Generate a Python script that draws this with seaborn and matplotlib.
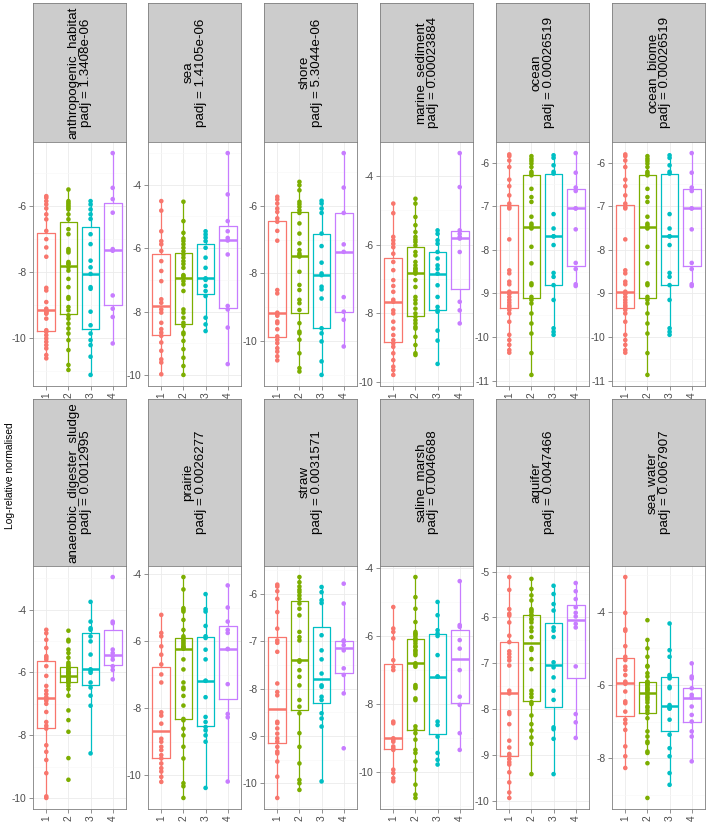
import matplotlib
matplotlib.use("Agg")
import matplotlib.pyplot as plt
from matplotlib.ticker import MultipleLocator
import seaborn as sns
import pandas as pd

groups = ["1", "2", "3", "4"]
colours = ["#F8766D", "#7CAE00", "#00BFC4", "#C77CFF"]

habitats_top = ["anthropogenic_habitat", "sea", "shore", "marine_sediment", "ocean", "ocean_biome"]
padj_top = ["1.3408e-06", "1.4105e-06", "5.3044e-06", "0.00023884", "0.00026519", "0.00026519"]
habitats_bottom = ["anaerobic_digester_sludge", "prairie", "straw", "saline_marsh", "aquifer", "sea_water"]
padj_bottom = ["0.0012995", "0.0026277", "0.0031571", "0.0046688", "0.0047466", "0.0067907"]

# log-relative normalised abundance, one list per group (1..4)
anthropogenic_habitat = [
    [-5.71, -5.76, -5.86, -5.96, -6.08, -6.26, -6.41, -6.76, -7.01, -7.26, -7.54, -8.48, -8.56, -8.91, -9.11,
     -9.16, -9.2, -9.21, -9.25, -9.26, -9.41, -9.76, -9.81, -9.91, -10.01, -10.11, -10.21, -10.31, -10.51, -10.61],
    [-5.51, -5.86, -5.91, -5.96, -6.01, -6.06, -6.11, -6.26, -6.41, -6.71, -6.86, -7.31, -7.36, -7.41, -7.7, -7.75,
     -7.76, -7.86, -7.96, -8.21, -8.46, -8.76, -8.81, -9.06, -9.16, -9.31, -9.41, -9.56, -9.71, -9.86, -10.06,
     -10.36, -10.81, -10.96],
    [-5.86, -5.96, -6.11, -6.26, -6.4, -6.86, -7.16, -7.66, -7.86, -8.06, -8.46, -8.51, -9.2, -9.61, -9.86, -10.06,
     -10.21, -10.56, -11.11],
    [-4.41, -5.46, -5.8, -6.21, -7.31, -7.36, -8.71, -9.11, -9.36, -10.16],
]
sea = [
    [-4.52, -4.82, -5.47, -5.78, -5.88, -6.09, -6.41, -6.72, -7.04, -7.61, -7.72, -7.93, -8.03, -8.35, -8.55, -8.66,
     -8.76, -8.97, -9.23, -9.50, -9.60, -9.97],
    [-4.54, -5.15, -5.52, -5.70, -5.78, -5.88, -5.99, -6.1, -6.20, -6.3, -6.41, -6.5, -6.62, -6.85, -6.88, -6.93,
     -7.04, -7.14, -7.35, -7.93, -8.03, -8.19, -8.35, -8.45, -8.66, -8.71, -8.92, -9.18, -9.45, -9.71, -9.99],
    [-5.47, -5.57, -5.67, -5.78, -5.99, -6.30, -6.62, -6.95, -7.0, -7.19, -7.35, -7.51, -8.19, -8.40, -8.61],
    [-3.01, -4.31, -5.15, -5.47, -5.68, -5.76, -6.20, -7.82, -7.93, -8.50, -9.65],
]
shore = [
    [-5.73, -5.81, -5.93, -6.08, -6.18, -6.37, -6.47, -6.74, -7.03, -8.49, -8.59, -9.16, -9.20, -9.25, -9.42, -9.47,
     -9.65, -9.86, -9.96, -10.06, -10.21, -10.31, -10.45, -10.57],
    [-5.29, -5.39, -5.54, -5.88, -5.95, -6.03, -6.13, -6.21, -6.52, -6.82, -7.11, -7.31, -7.41, -7.46, -7.5, -7.95,
     -8.34, -8.49, -8.78, -8.88, -9.08, -9.47, -9.72, -9.77, -9.96, -10.36, -10.80, -10.90],
    [-5.85, -5.93, -6.08, -6.21, -6.82, -7.19, -7.68, -8.00, -8.05, -8.39, -8.47, -8.74, -9.62, -9.77, -10.01,
     -10.60, -11.00],
    [-4.44, -5.46, -6.21, -7.14, -7.36, -8.70, -9.13, -9.37, -10.16],
]
marine_sediment = [
    [-4.80, -5.08, -5.77, -5.87, -5.97, -6.07, -6.26, -6.50, -6.74, -7.03, -7.2, -7.37, -7.6, -7.66, -7.91, -8.00,
     -8.24, -8.44, -8.63, -8.78, -8.87, -8.97, -9.16, -9.36, -9.55, -9.65, -9.79],
    [-4.66, -4.80, -5.19, -5.43, -5.63, -5.77, -5.85, -5.92, -6.02, -6.21, -6.31, -6.5, -6.60, -6.69, -6.7, -6.76,
     -6.79, -6.84, -7.03, -7.23, -7.52, -7.61, -7.71, -7.86, -8.00, -8.10, -8.20, -8.29, -8.39, -8.44, -8.68,
     -8.92, -9.16, -9.21],
    [-5.58, -5.68, -5.87, -5.97, -6.21, -6.4, -6.60, -6.7, -6.84, -7.18, -7.52, -7.81, -7.91, -7.95, -8.50, -8.79,
     -9.47],
    [-3.33, -4.32, -5.58, -5.68, -5.77, -5.82, -6.21, -7.66, -7.91, -8.29],
]
ocean = [
    [-5.81, -5.85, -5.95, -6.10, -6.39, -6.54, -6.75, -6.94, -7.02, -7.05, -7.76, -8.47, -8.54, -8.73, -8.79, -8.96,
     -9.0, -9.0, -9.08, -9.15, -9.21, -9.27, -9.31, -9.38, -9.46, -9.65, -9.95, -10.07, -10.18, -10.30, -10.36],
    [-5.85, -5.91, -5.96, -6.02, -6.10, -6.21, -6.25, -6.29, -6.60, -6.79, -6.90, -7.24, -7.40, -7.44, -7.49, -7.51,
     -7.93, -8.31, -8.77, -8.81, -9.08, -9.15, -9.23, -9.46, -9.69, -9.92, -10.37, -10.87],
    [-5.83, -5.89, -6.06, -6.21, -6.25, -7.18, -7.51, -7.69, -7.69, -7.89, -8.53, -8.62, -8.81, -9.15, -9.80,
     -9.88, -9.95],
    [-5.78, -6.23, -6.57, -6.65, -7.05, -7.05, -7.53, -8.30, -8.44, -8.79, -8.83],
]
ocean_biome = ocean  # same samples as "ocean" in the source chart
anaerobic_digester_sludge = [
    [-4.64, -4.75, -4.96, -5.22, -5.48, -5.53, -5.59, -5.80, -6.11, -6.43, -6.58, -6.69, -6.79, -6.85, -6.90, -7.0,
     -7.26, -7.58, -7.7, -7.79, -8.32, -8.53, -8.79, -9.21, -9.95, -10.0],
    [-4.67, -4.96, -5.01, -5.27, -5.38, -5.53, -5.69, -5.75, -5.80, -5.85, -5.88, -5.9, -5.95, -6.0, -6.0, -6.01,
     -6.05, -6.1, -6.11, -6.15, -6.2, -6.2, -6.22, -6.25, -6.27, -6.28, -6.3, -6.35, -6.43, -6.53, -6.74, -7.21,
     -7.52, -7.89, -8.73, -9.42],
    [-3.75, -4.38, -4.59, -4.64, -4.85, -5.01, -5.43, -5.90, -5.96, -6.01, -6.32, -6.48, -6.74, -7.06, -8.58],
    [-2.96, -4.38, -4.43, -5.27, -5.38, -5.48, -5.59, -5.80, -5.92, -6.22],
]
prairie = [
    [-5.21, -5.75, -5.85, -6.15, -6.40, -6.69, -6.99, -7.23, -8.12, -8.22, -8.46, -8.91, -9.0, -9.15, -9.25, -9.40,
     -9.50, -9.65, -9.79, -9.89, -10.05, -10.2],
    [-4.08, -4.45, -5.01, -5.06, -5.11, -5.36, -5.66, -5.85, -5.9, -5.95, -6.0, -6.05, -6.1, -6.15, -6.18, -6.20,
     -6.22, -6.54, -6.84, -7.23, -7.38, -7.43, -7.63, -7.92, -8.32, -8.36, -8.61, -8.81, -9.15, -9.50, -10.24,
     -10.33, -10.68],
    [-4.59, -5.04, -5.11, -5.54, -5.85, -5.90, -6.25, -6.54, -7.18, -7.18, -7.67, -8.26, -8.41, -8.56, -8.66, -8.81,
     -9.00, -10.38],
    [-4.33, -4.99, -5.41, -5.66, -5.75, -6.23, -6.23, -7.28, -8.17, -8.27, -10.19],
]
straw = [
    [-5.80, -5.84, -5.94, -6.10, -6.38, -6.73, -6.98, -7.03, -7.22, -7.89, -8.07, -8.14, -8.70, -8.73, -8.84, -8.95,
     -9.05, -9.12, -9.23, -9.33, -9.37, -9.54, -9.86, -10.31],
    [-5.64, -5.75, -5.84, -5.91, -5.96, -6.03, -6.10, -6.20, -6.31, -6.45, -6.80, -6.91, -6.98, -7.40, -7.43, -7.61,
     -7.75, -7.93, -8.24, -8.38, -8.52, -8.94, -9.23, -9.58, -9.93, -10.0, -10.14],
    [-5.85, -5.96, -6.13, -6.19, -6.87, -7.19, -7.38, -7.68, -7.93, -7.96, -8.17, -8.24, -8.52, -8.63, -8.80, -9.96],
    [-5.78, -6.20, -6.98, -7.0, -7.08, -7.19, -7.57, -7.71, -8.10, -9.26],
]
saline_marsh = [
    [-5.15, -5.78, -5.88, -6.07, -6.71, -6.91, -7.0, -8.51, -8.56, -9.0, -9.05, -9.10, -9.24, -9.3, -9.34, -9.92,
     -10.02, -10.17, -10.26],
    [-4.27, -4.86, -5.20, -5.59, -5.88, -5.93, -5.95, -6.0, -6.07, -6.1, -6.15, -6.22, -6.3, -6.32, -6.41, -6.45,
     -6.51, -6.56, -6.8, -6.85, -6.90, -7.44, -7.49, -7.53, -7.83, -7.88, -8.65, -8.75, -8.85, -9.04, -9.34, -9.43,
     -9.68, -9.92, -10.36, -10.65, -10.75],
    [-5.0, -5.39, -5.83, -5.93, -6.0, -6.56, -7.19, -7.19, -8.51, -8.61, -8.95, -9.43, -9.63, -9.77],
    [-4.39, -5.68, -5.73, -6.12, -6.37, -7.0, -7.78, -8.02, -8.85, -9.34],
]
aquifer = [
    [-5.12, -5.40, -5.82, -5.92, -5.96, -6.11, -6.40, -6.54, -6.74, -6.80, -6.87, -6.94, -7.05, -7.60, -7.66, -8.07,
     -8.11, -8.33, -8.69, -8.84, -8.98, -9.02, -9.09, -9.16, -9.21, -9.38, -9.60, -9.82, -9.94],
    [-5.16, -5.38, -5.52, -5.63, -5.82, -5.85, -5.89, -5.95, -5.96, -6.03, -6.05, -6.11, -6.22, -6.3, -6.43, -6.67,
     -6.71, -6.91, -7.13, -7.60, -7.67, -7.74, -7.85, -7.89, -8.14, -8.33, -8.47, -8.62, -8.76, -9.42],
    [-5.31, -5.49, -5.71, -5.85, -6.22, -6.29, -6.43, -6.98, -7.09, -7.31, -7.60, -7.8, -8.40, -8.44, -8.65, -9.42],
    [-5.25, -5.43, -5.60, -5.78, -5.9, -5.98, -6.14, -6.22, -7.07, -8.11, -8.29, -8.63],
]
sea_water = [
    [-3.05, -4.03, -4.48, -4.52, -4.94, -5.23, -5.32, -5.50, -5.59, -5.73, -5.91, -5.94, -5.97, -6.18, -6.45, -6.50,
     -6.73, -6.95, -7.05, -7.23, -7.68, -7.95, -8.27],
    [-4.23, -4.77, -5.0, -5.23, -5.48, -5.5, -5.68, -5.77, -5.91, -5.92, -5.95, -5.98, -6.0, -6.05, -6.09, -6.12,
     -6.14, -6.18, -6.23, -6.26, -6.32, -6.36, -6.41, -6.48, -6.59, -6.62, -6.7, -6.77, -6.91, -7.27, -7.41, -7.55,
     -7.59, -7.82, -7.86, -8.14, -9.09],
    [-4.32, -5.05, -5.23, -5.73, -5.77, -5.82, -6.05, -6.09, -6.55, -6.6, -6.63, -6.65, -6.95, -7.36, -7.73, -7.95,
     -8.41, -8.73],
    [-5.41, -5.77, -5.82, -6.09, -6.27, -6.35, -6.35, -6.59, -6.82, -7.0, -7.27, -7.41, -8.09],
]

top_data = [anthropogenic_habitat, sea, shore, marine_sediment, ocean, ocean_biome]
bottom_data = [anaerobic_digester_sludge, prairie, straw, saline_marsh, aquifer, sea_water]
top_steps = [2, 2, 2, 2, 1, 1]
bottom_steps = [2, 2, 1, 2, 1, 2]

plt.rcParams["font.family"] = ["Liberation Sans", "DejaVu Sans"]
plt.rcParams["axes.unicode_minus"] = False

W, H = 708, 824
fig = plt.figure(figsize=(W / 100, H / 100), dpi=100)


def rect(x0, y0, x1, y1):
    return [x0 / W, 1 - y1 / H, (x1 - x0) / W, (y1 - y0) / H]


def draw_strip(ax, name, padj):
    ax.set_facecolor("#CCCCCC")
    ax.set_xticks([])
    ax.set_yticks([])
    for s in ax.spines.values():
        s.set_color("#7F7F7F")
        s.set_linewidth(0.6)
    ax.text(0.5, 0.5, f"{name}\npadj = {padj}", rotation=90, ha="center", va="center",
            fontsize=9.6, linespacing=1.05, transform=ax.transAxes)


def draw_panel(ax, values, step):
    df = pd.DataFrame({
        "group": [g for g, v in zip(groups, values) for _ in v],
        "value": [x for v in values for x in v],
    })
    sns.boxplot(data=df, x="group", y="value", hue="group", order=groups, hue_order=groups,
                palette=colours, fill=False, width=0.8, linewidth=0.9, showfliers=False,
                showcaps=False, medianprops={"linewidth": 1.8}, legend=False, ax=ax)
    sns.stripplot(data=df, x="group", y="value", hue="group", order=groups, hue_order=groups,
                  palette=colours, jitter=False, size=3.3, linewidth=0, legend=False,
                  ax=ax, zorder=3)
    ax.set_xlim(-0.6, 3.6)
    ax.yaxis.set_major_locator(MultipleLocator(step))
    ax.yaxis.set_minor_locator(MultipleLocator(step / 2))
    ax.set_axisbelow(True)
    ax.grid(which="major", color="#EBEBEB", linewidth=0.6)
    ax.grid(which="minor", axis="y", color="#F7F7F7", linewidth=0.4)
    ax.tick_params(which="major", length=3, color="#7F7F7F", width=0.6,
                   labelsize=7.4, labelcolor="#4D4D4D", pad=1.5)
    ax.tick_params(which="minor", length=0)
    ax.tick_params(axis="x", labelrotation=90)
    ax.set_xlabel("")
    ax.set_ylabel("")
    for s in ax.spines.values():
        s.set_color("#7F7F7F")
        s.set_linewidth(0.6)


lefts = [33, 148, 264, 380, 496, 612]
panel_w = 93
rows = [
    (habitats_top, padj_top, top_data, top_steps, (3, 142), (142, 386)),
    (habitats_bottom, padj_bottom, bottom_data, bottom_steps, (399, 566), (566, 809)),
]
for names, padjs, data, steps, (sy0, sy1), (py0, py1) in rows:
    for left, name, padj, values, step in zip(lefts, names, padjs, data, steps):
        sax = fig.add_axes(rect(left, sy0, left + panel_w, sy1))
        draw_strip(sax, name, padj)
        pax = fig.add_axes(rect(left, py0, left + panel_w, py1))
        draw_panel(pax, values, step)

fig.text(10 / W, 1 - 476 / H, "Log-relative normalised", rotation=90,
         ha="center", va="center", fontsize=7.4)

fig.savefig("out.png", dpi=100)
